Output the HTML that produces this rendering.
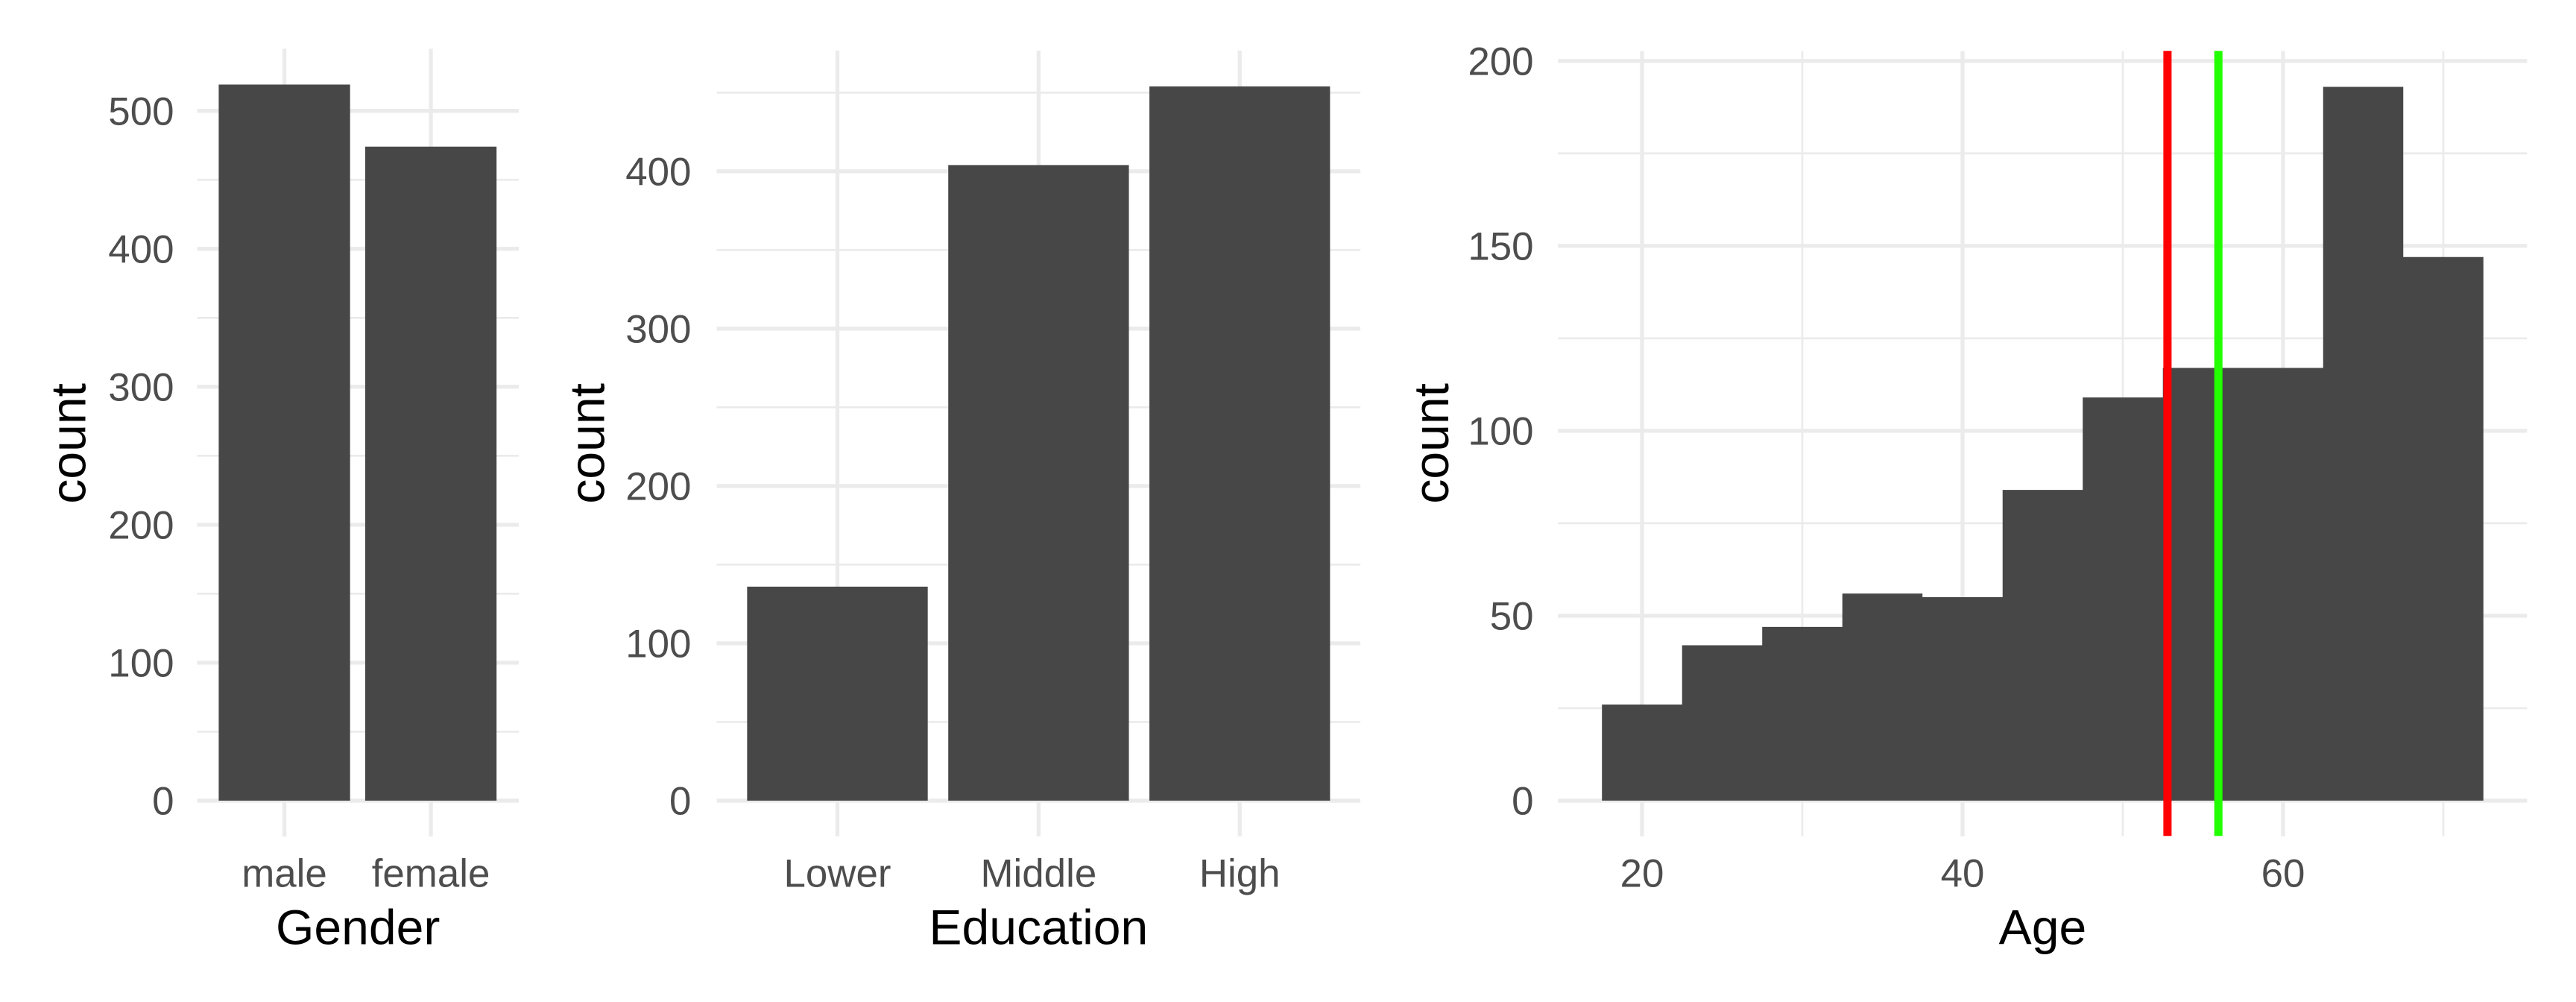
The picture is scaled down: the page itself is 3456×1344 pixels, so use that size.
<!DOCTYPE html>
<html><head><meta charset="utf-8"><style>html,body{margin:0;padding:0;background:#fff}svg{display:block}</style></head>
<body>
<svg xmlns="http://www.w3.org/2000/svg" width="3456" height="1344" viewBox="0 0 1568.8 610.1" preserveAspectRatio="none" font-family="Liberation Sans, Arial, sans-serif">
<rect width="1568.8" height="610.1" fill="#fff"/>
<g stroke="#ebebeb" fill="none">
<g stroke-width="1.2">
<line x1="120" x2="316" y1="445.5" y2="445.5"/><line x1="120" x2="316" y1="361.5" y2="361.5"/><line x1="120" x2="316" y1="277.5" y2="277.5"/><line x1="120" x2="316" y1="193.5" y2="193.5"/><line x1="120" x2="316" y1="109.5" y2="109.5"/>
</g>
<g stroke-width="2.4">
<line x1="120" x2="316" y1="487.5" y2="487.5"/><line x1="120" x2="316" y1="403.5" y2="403.5"/><line x1="120" x2="316" y1="319.5" y2="319.5"/><line x1="120" x2="316" y1="235.5" y2="235.5"/><line x1="120" x2="316" y1="151.5" y2="151.5"/><line x1="120" x2="316" y1="67.5" y2="67.5"/>
<line x1="173.2" x2="173.2" y1="29.7" y2="509.3"/><line x1="262.4" x2="262.4" y1="29.7" y2="509.3"/>
</g>
<g stroke-width="1.2">
<line x1="436.5" x2="828.5" y1="439.6" y2="439.6"/><line x1="436.5" x2="828.5" y1="343.8" y2="343.8"/><line x1="436.5" x2="828.5" y1="248" y2="248"/><line x1="436.5" x2="828.5" y1="152.2" y2="152.2"/><line x1="436.5" x2="828.5" y1="56.4" y2="56.4"/>
</g>
<g stroke-width="2.4">
<line x1="436.5" x2="828.5" y1="487.5" y2="487.5"/><line x1="436.5" x2="828.5" y1="391.7" y2="391.7"/><line x1="436.5" x2="828.5" y1="295.9" y2="295.9"/><line x1="436.5" x2="828.5" y1="200.1" y2="200.1"/><line x1="436.5" x2="828.5" y1="104.3" y2="104.3"/>
<line x1="510" x2="510" y1="30.8" y2="509.2"/><line x1="632.5" x2="632.5" y1="30.8" y2="509.2"/><line x1="755" x2="755" y1="30.8" y2="509.2"/>
</g>
<g stroke-width="1.2">
<line x1="948.8" x2="1539" y1="431.2" y2="431.2"/><line x1="948.8" x2="1539" y1="318.6" y2="318.6"/><line x1="948.8" x2="1539" y1="206" y2="206"/><line x1="948.8" x2="1539" y1="93.4" y2="93.4"/>
<line x1="1097.6" x2="1097.6" y1="31.1" y2="509.2"/><line x1="1292.8" x2="1292.8" y1="31.1" y2="509.2"/><line x1="1488" x2="1488" y1="31.1" y2="509.2"/>
</g>
<g stroke-width="2.4">
<line x1="948.8" x2="1539" y1="487.5" y2="487.5"/><line x1="948.8" x2="1539" y1="374.9" y2="374.9"/><line x1="948.8" x2="1539" y1="262.3" y2="262.3"/><line x1="948.8" x2="1539" y1="149.7" y2="149.7"/><line x1="948.8" x2="1539" y1="37.1" y2="37.1"/>
<line x1="1000" x2="1000" y1="31.1" y2="509.2"/><line x1="1195.2" x2="1195.2" y1="31.1" y2="509.2"/><line x1="1390.4" x2="1390.4" y1="31.1" y2="509.2"/>
</g>
</g>
<g fill="#474747">
<rect x="133.2" y="51.5" width="80" height="436"/>
<rect x="222.4" y="89.3" width="80" height="398.2"/>
<rect x="455" y="357.2" width="110" height="130.3"/>
<rect x="577.5" y="100.5" width="110" height="387"/>
<rect x="700" y="52.6" width="110" height="434.9"/>
<path d="M975.6 487.5 V429 H1024.4 V392.9 H1073.2 V381.7 H1122 V361.4 H1170.8 V363.6 H1219.6 V298.3 H1268.4 V242 H1317.2 V224 H1414.8 V52.9 H1463.6 V156.5 H1512.4 V487.5 Z"/>
</g>
<line x1="1320" x2="1320" y1="31" y2="509" stroke="#ff0000" stroke-width="5"/>
<line x1="1351" x2="1351" y1="31" y2="509" stroke="#22ff00" stroke-width="5"/>
<g fill="#4d4d4d" font-size="24">
<g text-anchor="end">
<text x="106" y="496">0</text><text x="106" y="412">100</text><text x="106" y="328">200</text><text x="106" y="244">300</text><text x="106" y="160">400</text><text x="106" y="76">500</text>
<text x="421" y="496">0</text><text x="421" y="400.2">100</text><text x="421" y="304.4">200</text><text x="421" y="208.6">300</text><text x="421" y="112.8">400</text>
<text x="934" y="496">0</text><text x="934" y="383.4">50</text><text x="934" y="270.8">100</text><text x="934" y="158.2">150</text><text x="934" y="45.6">200</text>
</g>
<g text-anchor="middle">
<text x="173.2" y="540">male</text><text x="262.4" y="540">female</text>
<text x="510" y="540">Lower</text><text x="632.5" y="540">Middle</text><text x="755" y="540">High</text>
<text x="1000" y="540">20</text><text x="1195.2" y="540">40</text><text x="1390.4" y="540">60</text>
</g>
</g>
<g fill="#000" font-size="30" text-anchor="middle">
<text x="218" y="575">Gender</text>
<text x="632.5" y="575">Education</text>
<text x="1244" y="575">Age</text>
<text transform="translate(52,270) rotate(-90)">count</text>
<text transform="translate(368,270) rotate(-90)">count</text>
<text transform="translate(882,270) rotate(-90)">count</text>
</g>
</svg>
</body></html>
